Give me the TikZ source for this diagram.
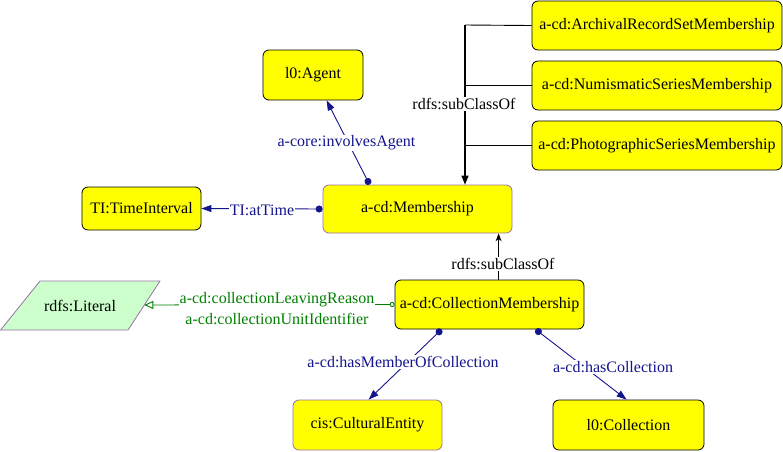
\documentclass[tikz,border=0pt]{standalone}
\usepackage{fontspec}
\setmainfont{Liberation Serif}
\usetikzlibrary{arrows.meta,calc}
\definecolor{navyc}{RGB}{20,20,140}
\definecolor{greenc}{RGB}{0,128,0}
\definecolor{purplec}{RGB}{150,115,166}
\definecolor{litfill}{RGB}{204,255,204}
\definecolor{yel}{RGB}{255,255,0}
\newcommand{\fs}{\fontsize{16}{18}\selectfont}
\begin{document}
\begin{tikzpicture}[x=1pt,y=-1pt,
  cls/.style={draw=black, fill=yel, rounded corners=6pt, line width=0.8pt, inner sep=0pt, font=\fs},
  clsp/.style={cls, draw=purplec},
  lab/.style={fill=white, inner sep=1pt, font=\fs},
  nlab/.style={lab, text=navyc},
  glab/.style={lab, text=greenc},
  blab/.style={lab, text=black},
  obj/.style={draw=navyc, line width=0.9pt, {Circle[length=7pt]}-{Triangle[length=10pt,width=7pt]}},
  dat/.style={draw=greenc, line width=0.9pt, {Circle[open,length=5pt]}-{Triangle[open,length=9pt,width=8pt]}},
  sub/.style={draw=black, line width=1.2pt, -{Triangle[length=9pt,width=7pt]}},
  subthin/.style={draw=black, line width=0.9pt, -{Stealth[length=8pt,width=6pt]}},
  plain/.style={draw=black, line width=0.9pt}
]
\useasboundingbox (0,0) rectangle (783,451);

\node[cls, minimum width=100pt, minimum height=50pt] (agent) at (313,75) {l0:Agent};
\node[cls, minimum width=119pt, minimum height=43pt] (time) at (141.5,208.5) {TI:TimeInterval};
\node[clsp, minimum width=189pt, minimum height=48pt] (mem) at (417.5,209) {a-cd:Membership};
\node[cls, minimum width=250pt, minimum height=49pt] (arch) at (657,25.5) {a-cd:ArchivalRecordSetMembership};
\node[cls, minimum width=250pt, minimum height=49pt] (num) at (657,85.5) {a-cd:NumismaticSeriesMembership};
\node[cls, minimum width=250pt, minimum height=49pt] (photo) at (657,145.5) {a-cd:PhotographicSeriesMembership};
\node[cls, minimum width=189pt, minimum height=49pt] (cm) at (489.5,304.5) {a-cd:CollectionMembership};
\node[clsp, minimum width=149pt, minimum height=50pt] (cult) at (367.5,425) {cis:CulturalEntity};
\node[cls, minimum width=151pt, minimum height=50pt] (coll) at (628.5,425) {l0:Collection};

% literal parallelogram
\coordinate (l1) at (40,281);
\coordinate (l2) at (160,281);
\coordinate (l3) at (128,330);
\coordinate (l4) at (0.6,330);
\draw[draw=purplec, fill=litfill, line width=0.8pt] (l1) -- (l2) -- (l3) -- (l4) -- cycle;
\node[font=\fs] (lit) at (80,305.5) {rdfs:Literal};
\coordinate (litR) at (144.3,305);

% subclass tree
\coordinate (top) at (465,25);
\draw[plain] (arch.west) -- (top);
\draw[plain] (num.west) -- (num.west -| top);
\draw[plain] (photo.west) -- (photo.west -| top);
\draw[sub] (top) -- (mem.north -| top);
\node[blab] at (464,104) {rdfs:subClassOf};

% subclass CollectionMembership -> Membership
\draw[subthin] ($(cm.north west)+(104,0)$) -- ($(mem.south west)+(176,0)$);
\node[blab] at (503,264) {rdfs:subClassOf};

% object properties
\draw[obj] ($(mem.north west)+(47,0)$) -- ($(agent.south west)+(64,0)$);
\node[nlab] at (346.5,143) {a-core:involvesAgent};

\draw[obj] (mem.west) -- (time.east);
\node[nlab] at (262,210) {TI:atTime};

\draw[obj] ($(cm.south west)+(47,0)$) -- ($(cult.north west)+(76,0)$);
\node[nlab] at (403,362) {a-cd:hasMemberOfCollection};

\draw[obj] ($(cm.south west)+(141,0)$) -- ($(coll.north west)+(74,0)$);
\node[nlab] at (613,367) {a-cd:hasCollection};

% datatype properties
\draw[dat] (cm.west) -- (litR);
\node[glab] at (277,300) {a-cd:collectionLeavingReason};
\node[glab] at (277,319) {a-cd:collectionUnitIdentifier};
\end{tikzpicture}
\end{document}
